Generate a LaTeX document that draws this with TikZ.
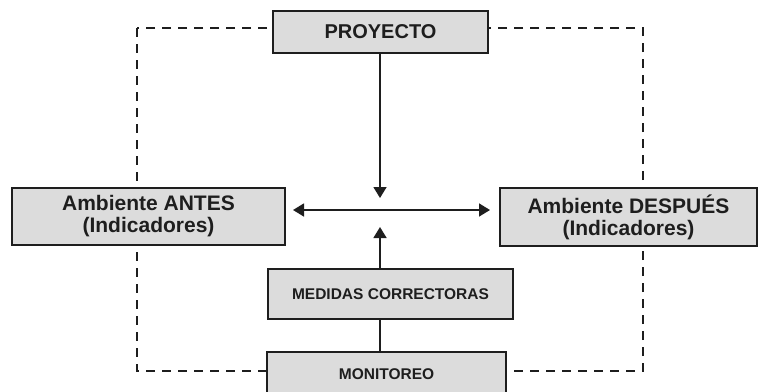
\documentclass[tikz,border=0pt]{standalone}
\usepackage{fontspec}
\setmainfont{Liberation Sans}
\usetikzlibrary{arrows.meta}
\definecolor{boxfill}{HTML}{DCDCDC}
\definecolor{ink}{HTML}{1E1E1E}
\tikzset{
  box/.style={draw=ink, line width=1.6pt, fill=boxfill, text=ink, font=\bfseries, align=center, inner sep=0pt},
  frameline/.style={draw=ink, line width=2.2pt, dash pattern=on 9pt off 7pt},
  conn/.style={draw=ink, line width=1.6pt},
  tip/.style={-{Triangle[length=11pt,width=13pt]}},
}
\begin{document}
\begin{tikzpicture}[x=1pt,y=-1pt]
\useasboundingbox (0,0) rectangle (759,391);
\clip (0,0) rectangle (759,391);
% dashed frame corners
\coordinate (tl) at (137,28);
\coordinate (br) at (643,371);
\draw[frameline] (tl) rectangle (br);
% boxes
\node[box, minimum width=215pt, minimum height=42pt, font=\fontsize{20}{24}\selectfont\bfseries] (proy) at (380.5,32) {PROYECTO};
\node[box, minimum width=273pt, minimum height=57pt, font=\fontsize{21}{22}\selectfont\bfseries] (antes) at (148.5,216.5) {Ambiente ANTES\\(Indicadores)};
\node[box, minimum width=257pt, minimum height=58pt, font=\fontsize{21}{22}\selectfont\bfseries] (desp) at (628.5,217) {Ambiente DESPUÉS\\(Indicadores)};
\node[box, minimum width=245pt, minimum height=50pt, font=\fontsize{15.5}{18}\selectfont\bfseries] (med) at (390.5,294) {MEDIDAS CORRECTORAS};
\node[box, minimum width=239pt, minimum height=44pt, font=\fontsize{15.5}{18}\selectfont\bfseries] (mon) at (386.5,374) {MONITOREO};
% connectors
\coordinate (downtip) at (380,198);
\coordinate (uptip) at (380,227);
\coordinate (lefttip) at (293,210);
\coordinate (righttip) at (490,210);
\draw[conn, tip] (proy.south -| downtip) -- (downtip);
\draw[conn, {Triangle[length=11pt,width=13pt]}-{Triangle[length=11pt,width=13pt]}] (lefttip) -- (righttip);
\draw[conn, tip] (med.north -| uptip) -- (uptip);
\draw[conn] (med.south -| uptip) -- (mon.north -| uptip);
\end{tikzpicture}
\end{document}
